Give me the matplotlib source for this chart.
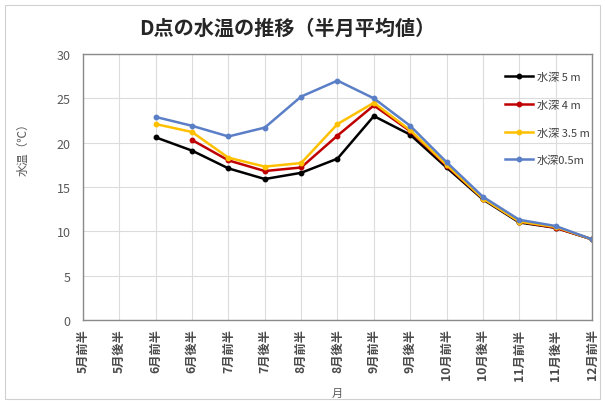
import matplotlib
matplotlib.use("Agg")
import matplotlib.pyplot as plt
from matplotlib.patches import Rectangle
import numpy as np

plt.rcParams['font.family'] = ['Noto Sans CJK JP', 'DejaVu Sans']

periods = ["5月前半", "5月後半", "6月前半", "6月後半", "7月前半", "7月後半",
           "8月前半", "8月後半", "9月前半", "9月後半", "10月前半", "10月後半",
           "11月前半", "11月後半", "12月前半"]

nan = np.nan
depth_5m = [nan, nan, 20.6, 19.1, 17.1, 15.9, 16.6, 18.2, 23.0, 20.9, 17.2, 13.6, 11.0, 10.4, 9.1]
depth_4m = [nan, nan, nan, 20.3, 18.0, 16.8, 17.2, 20.8, 24.2, 21.3, 17.4, 13.7, 11.1, 10.4, 9.1]
depth_3_5m = [nan, nan, 22.1, 21.2, 18.3, 17.3, 17.7, 22.1, 24.5, 21.4, 17.5, 13.7, 11.1, 10.5, 9.1]
depth_0_5m = [nan, nan, 22.9, 21.9, 20.7, 21.7, 25.2, 27.0, 25.0, 21.9, 17.8, 13.9, 11.3, 10.6, 9.1]

series = [
    ("水深 5 m", depth_5m, "#000000"),
    ("水深 4 m", depth_4m, "#c00000"),
    ("水深 3.5 m", depth_3_5m, "#ffc000"),
    ("水深0.5m", depth_0_5m, "#5b7fc7"),
]

fig = plt.figure(figsize=(6.05, 4.06), dpi=100)
fig.patches.append(Rectangle((0.008, 0.015), 0.984, 0.97, transform=fig.transFigure,
                             fill=False, edgecolor="#d0d0d0", linewidth=0.8))
ax = fig.add_axes([0.1372, 0.2094, 0.8413, 0.6551])

x = np.arange(len(periods))
for label, vals, color in series:
    ax.plot(x, vals, color=color, linewidth=1.8, marker="o", markersize=3.2,
            label=label)

ax.set_xlim(0, len(periods) - 1)
ax.set_ylim(0, 30)
ax.set_yticks(np.arange(0, 31, 5))
ax.set_xticks(x)
ax.set_xticklabels(periods, rotation=90, fontsize=8.8, color="#4a4a4a",
                   fontweight="bold")
ax.tick_params(axis="y", labelsize=9, colors="#595959", length=0, pad=9)
ax.tick_params(axis="x", length=0, pad=6)
ax.grid(True, color="#dcdcdc", linewidth=0.8)
ax.set_axisbelow(True)
for s in ax.spines.values():
    s.set_color("#8a8a8a")
    s.set_linewidth(1.0)

ax.set_ylabel("水温（℃）", fontsize=8.5, color="#595959")
ax.yaxis.set_label_coords(-0.105, 0.654)
ax.set_xlabel("月", fontsize=8, color="#595959", labelpad=6)

fig.text(0.475, 0.93, "D点の水温の推移（半月平均値）", ha="center", va="center",
         fontsize=14.5, fontweight="bold", color="#262626")

leg = ax.legend(loc="upper right", bbox_to_anchor=(1.015, 0.97), frameon=False,
                fontsize=8, handlelength=2.6, labelspacing=1.55, handletextpad=0.3,
                labelcolor="#404040")

fig.savefig("out.png", dpi=100)
